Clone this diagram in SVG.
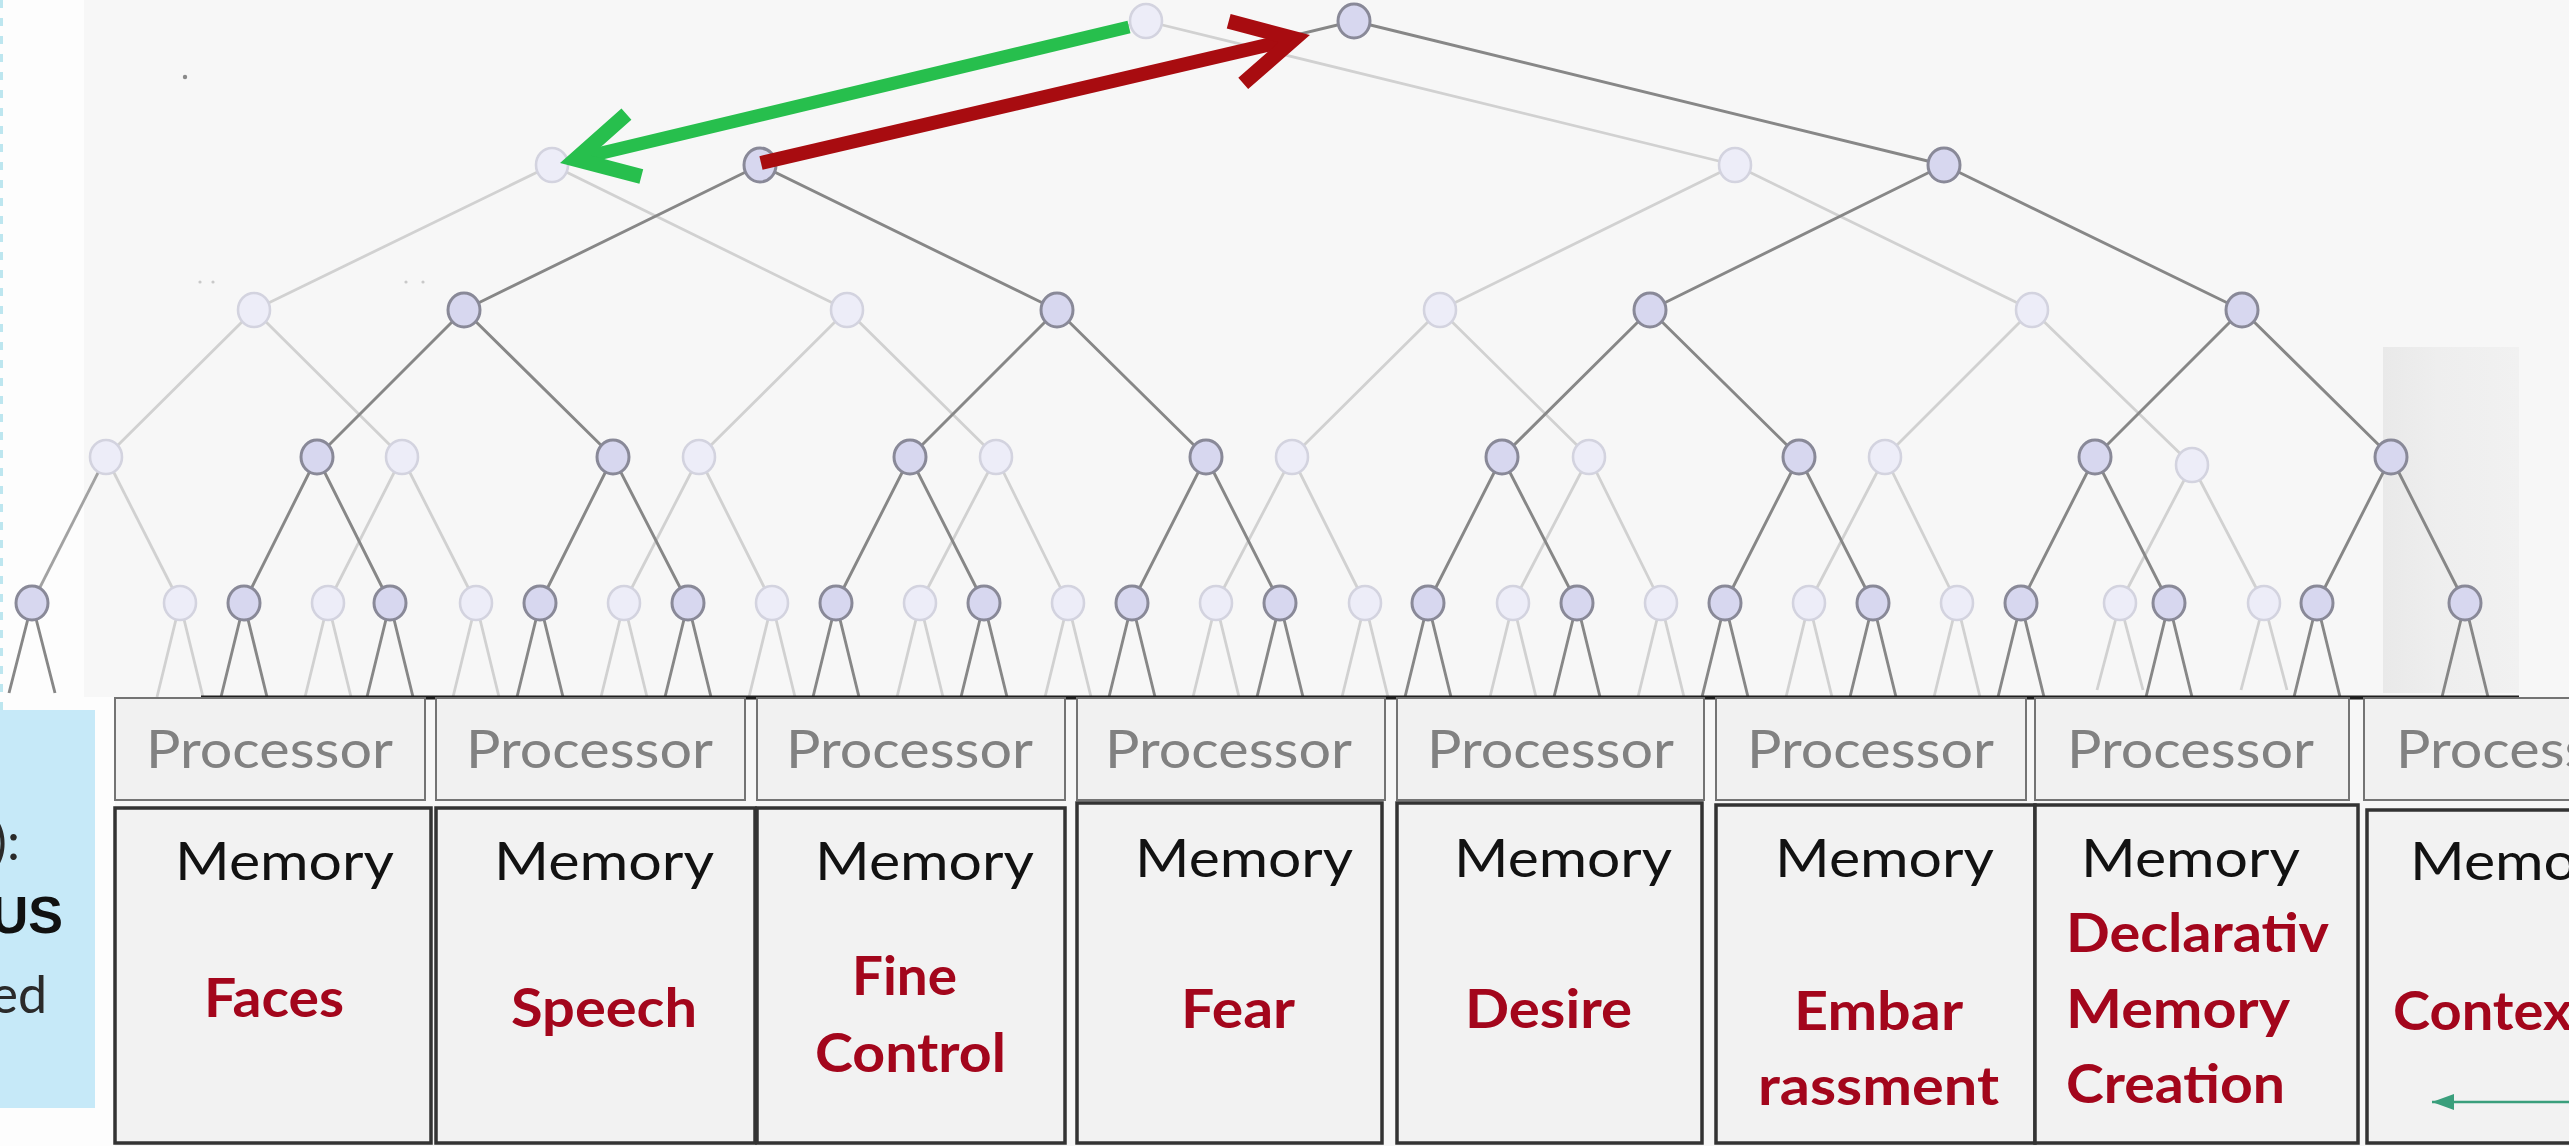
<svg xmlns="http://www.w3.org/2000/svg" width="2569" height="1146" viewBox="0 0 2569 1146">
  <defs>
    <style>
      .el{stroke:#d1d1d1;stroke-width:2.8;fill:none;stroke-linejoin:round}
      .em{stroke:#a2a2a2;stroke-width:2.8;fill:none}
      .ed{stroke:#878787;stroke-width:2.9;fill:none;stroke-linejoin:round}
      .nl{fill:#ededf8;stroke:#d3d3df;stroke-width:2.6}
      .nd{fill:#d7d7ef;stroke:#898998;stroke-width:3}
      .proc rect{fill:#f1f1f1;stroke:#747474;stroke-width:2}
      .mem rect{fill:#f2f2f2;stroke:#333333;stroke-width:3.5}
      .pt{font-family:Lato,"Open Sans","Liberation Sans",sans-serif;font-size:53px;fill:#818181}
      .mt{font-family:Lato,"Open Sans","Liberation Sans",sans-serif;font-size:52px;fill:#121212}
      .rt{font-family:Lato,"Open Sans","Liberation Sans",sans-serif;font-size:54px;font-weight:bold;fill:#a3061c}
      .side{font-family:Lato,"Open Sans","Liberation Sans",sans-serif;font-size:52px;fill:#2a2a2a}
      .tick{stroke:#5c5c5c;stroke-width:2}
    </style>
    <marker id="chev-green" markerUnits="userSpaceOnUse" orient="auto" refX="-8" refY="0" markerWidth="90" markerHeight="90" overflow="visible">
      <path d="M-60,-32 L0,0 L-60,32" fill="none" stroke="#27bf4d" stroke-width="15" stroke-miterlimit="10"/>
    </marker>
    <marker id="chev-red" markerUnits="userSpaceOnUse" orient="auto" refX="-8" refY="0" markerWidth="90" markerHeight="90" overflow="visible">
      <path d="M-60,-32 L0,0 L-60,32" fill="none" stroke="#a80c10" stroke-width="15" stroke-miterlimit="10"/>
    </marker>
    <marker id="tri-teal" markerUnits="userSpaceOnUse" orient="auto" refX="0" refY="0" markerWidth="30" markerHeight="30" overflow="visible">
      <path d="M0,0 L-22,-8 L-22,8 Z" fill="#3a9f7c"/>
    </marker>
    <linearGradient id="shade" x1="0" y1="0" x2="1" y2="0">
      <stop offset="0" stop-color="#e9e9e9"/>
      <stop offset="0.4" stop-color="#eeeeee"/>
      <stop offset="1" stop-color="#f1f1f1"/>
    </linearGradient>
  </defs>

  <!-- backdrop -->
  <rect x="0" y="0" width="2569" height="1146" fill="#f7f7f7"/>
  <rect x="0" y="0" width="84" height="712" fill="#fdfdfd"/>
  <rect x="0" y="697" width="115" height="449" fill="#fdfdfd"/>
  <line x1="1.5" y1="0" x2="1.5" y2="712" stroke="#bde6ef" stroke-width="3" stroke-dasharray="8 10"/>
  <rect x="2383" y="347" width="136" height="346" fill="url(#shade)"/>
  <g fill="#c9c9c9">
    <circle cx="185" cy="77" r="2.2" fill="#8a8a8a"/>
    <circle cx="200" cy="282" r="1.6"/>
    <circle cx="213" cy="282" r="1.6"/>
    <circle cx="406" cy="282" r="1.6"/>
    <circle cx="423" cy="282" r="1.6"/>
  </g>

  <!-- side panel -->
  <g id="side-panel">
    <rect x="-2" y="710" width="97" height="398" fill="#c6e9f8"/>
    <text class="side" x="20" y="860" text-anchor="end">):</text>
    <text x="63" y="933" text-anchor="end" font-family="'Liberation Sans',Arial,sans-serif" font-size="52" font-weight="bold" fill="#111">US</text>
    <text class="side" x="47" y="1013" text-anchor="end">ed</text>
  </g>

  <!-- tree edges and arrows -->
  <g id="connectors">
    <g id="faint-edges">
      <path class="el" d="M552,165 L1146,21 L1735,165"/>
      <path class="el" d="M254,310 L552,165 L847,310"/>
      <path class="el" d="M1440,310 L1735,165 L2032,310"/>
      <path class="el" d="M106,457 L254,310 L402,457"/>
      <path class="el" d="M699,457 L847,310 L996,457"/>
      <path class="el" d="M1292,457 L1440,310 L1589,457"/>
      <path class="el" d="M1885,457 L2032,310 L2192,465"/>
      <path class="el" d="M180,603 L106,457"/>
      <path class="em" d="M106,457 L32,603"/>
      <path class="el" d="M328,603 L402,457 L476,603"/>
      <path class="el" d="M624,603 L699,457 L772,603"/>
      <path class="el" d="M920,603 L996,457 L1068,603"/>
      <path class="el" d="M1216,603 L1292,457 L1365,603"/>
      <path class="el" d="M1513,603 L1589,457 L1661,603"/>
      <path class="el" d="M1809,603 L1885,457 L1957,603"/>
      <path class="el" d="M2120,603 L2192,465 L2264,603"/>
      <path class="ed" d="M9,693 L32,603 L55,693"/>
      <path class="el" d="M157,697 L180,603 L203,697"/>
      <path class="el" d="M305,697 L328,603 L351,697"/>
      <path class="el" d="M453,697 L476,603 L499,697"/>
      <path class="el" d="M601,697 L624,603 L647,697"/>
      <path class="el" d="M749,697 L772,603 L795,697"/>
      <path class="el" d="M897,697 L920,603 L943,697"/>
      <path class="el" d="M1045,697 L1068,603 L1091,697"/>
      <path class="el" d="M1193,697 L1216,603 L1239,697"/>
      <path class="el" d="M1342,697 L1365,603 L1388,697"/>
      <path class="el" d="M1490,697 L1513,603 L1536,697"/>
      <path class="el" d="M1638,697 L1661,603 L1684,697"/>
      <path class="el" d="M1786,697 L1809,603 L1832,697"/>
      <path class="el" d="M1934,697 L1957,603 L1980,697"/>
      <path class="el" d="M2097,690 L2120,603 L2143,690"/>
      <path class="el" d="M2241,690 L2264,603 L2287,690"/>
    </g>
    <g id="strong-edges">
      <path class="ed" d="M760,165 L1354,21 L1944,165"/>
      <path class="ed" d="M464,310 L760,165 L1057,310"/>
      <path class="ed" d="M1650,310 L1944,165 L2242,310"/>
      <path class="ed" d="M317,457 L464,310 L613,457"/>
      <path class="ed" d="M910,457 L1057,310 L1206,457"/>
      <path class="ed" d="M1502,457 L1650,310 L1799,457"/>
      <path class="ed" d="M2095,457 L2242,310 L2391,457"/>
      <path class="ed" d="M244,603 L317,457 L390,603"/>
      <path class="ed" d="M540,603 L613,457 L688,603"/>
      <path class="ed" d="M836,603 L910,457 L984,603"/>
      <path class="ed" d="M1132,603 L1206,457 L1280,603"/>
      <path class="ed" d="M1428,603 L1502,457 L1577,603"/>
      <path class="ed" d="M1725,603 L1799,457 L1873,603"/>
      <path class="ed" d="M2021,603 L2095,457 L2169,603"/>
      <path class="ed" d="M2317,603 L2391,457 L2465,603"/>
      <path class="ed" d="M221,697 L244,603 L267,697"/>
      <path class="ed" d="M367,697 L390,603 L413,697"/>
      <path class="ed" d="M517,697 L540,603 L563,697"/>
      <path class="ed" d="M665,697 L688,603 L711,697"/>
      <path class="ed" d="M813,697 L836,603 L859,697"/>
      <path class="ed" d="M961,697 L984,603 L1007,697"/>
      <path class="ed" d="M1109,697 L1132,603 L1155,697"/>
      <path class="ed" d="M1257,697 L1280,603 L1303,697"/>
      <path class="ed" d="M1405,697 L1428,603 L1451,697"/>
      <path class="ed" d="M1554,697 L1577,603 L1600,697"/>
      <path class="ed" d="M1702,697 L1725,603 L1748,697"/>
      <path class="ed" d="M1850,697 L1873,603 L1896,697"/>
      <path class="ed" d="M1998,697 L2021,603 L2044,697"/>
      <path class="ed" d="M2146,697 L2169,603 L2192,697"/>
      <path class="ed" d="M2294,697 L2317,603 L2340,697"/>
      <path class="ed" d="M2442,697 L2465,603 L2488,697"/>
    </g>
    <g id="bus">
      <line x1="201" y1="697.5" x2="2519" y2="697.5" stroke="#1e1e1e" stroke-width="4"/>
      <path class="tick" d="M328,699 V711 M643,699 V711 M649,699 V711 M969,699 V711 M975,699 V711 M1290,699 V711 M1302,699 V711 M1615,699 V711 M1626,699 V711 M1938,699 V711 M1952,699 V711 M2265,699 V711 M2276,699 V711"/>
    </g>
  </g>

  <!-- faint tree nodes -->
  <g id="faint-nodes">
    <g id="f-0"><ellipse class="nl" cx="1146" cy="21" rx="16" ry="17"/></g>
    <g id="f-1a"><ellipse class="nl" cx="552" cy="165" rx="16" ry="17"/></g>
    <g id="f-1b"><ellipse class="nl" cx="1735" cy="165" rx="16" ry="17"/></g>
    <g id="f-2a"><ellipse class="nl" cx="254" cy="310" rx="16" ry="17"/></g>
    <g id="f-2b"><ellipse class="nl" cx="847" cy="310" rx="16" ry="17"/></g>
    <g id="f-2c"><ellipse class="nl" cx="1440" cy="310" rx="16" ry="17"/></g>
    <g id="f-2d"><ellipse class="nl" cx="2032" cy="310" rx="16" ry="17"/></g>
    <g id="f-3a"><ellipse class="nl" cx="106" cy="457" rx="16" ry="17"/></g>
    <g id="f-3b"><ellipse class="nl" cx="402" cy="457" rx="16" ry="17"/></g>
    <g id="f-3c"><ellipse class="nl" cx="699" cy="457" rx="16" ry="17"/></g>
    <g id="f-3d"><ellipse class="nl" cx="996" cy="457" rx="16" ry="17"/></g>
    <g id="f-3e"><ellipse class="nl" cx="1292" cy="457" rx="16" ry="17"/></g>
    <g id="f-3f"><ellipse class="nl" cx="1589" cy="457" rx="16" ry="17"/></g>
    <g id="f-3g"><ellipse class="nl" cx="1885" cy="457" rx="16" ry="17"/></g>
    <g id="f-3h"><ellipse class="nl" cx="2192" cy="465" rx="16" ry="17"/></g>
    <g id="f-4a"><ellipse class="nd" cx="32" cy="603" rx="16" ry="17"/></g>
    <g id="f-4b"><ellipse class="nl" cx="180" cy="603" rx="16" ry="17"/></g>
    <g id="f-4c"><ellipse class="nl" cx="328" cy="603" rx="16" ry="17"/></g>
    <g id="f-4d"><ellipse class="nl" cx="476" cy="603" rx="16" ry="17"/></g>
    <g id="f-4e"><ellipse class="nl" cx="624" cy="603" rx="16" ry="17"/></g>
    <g id="f-4f"><ellipse class="nl" cx="772" cy="603" rx="16" ry="17"/></g>
    <g id="f-4g"><ellipse class="nl" cx="920" cy="603" rx="16" ry="17"/></g>
    <g id="f-4h"><ellipse class="nl" cx="1068" cy="603" rx="16" ry="17"/></g>
    <g id="f-4i"><ellipse class="nl" cx="1216" cy="603" rx="16" ry="17"/></g>
    <g id="f-4j"><ellipse class="nl" cx="1365" cy="603" rx="16" ry="17"/></g>
    <g id="f-4k"><ellipse class="nl" cx="1513" cy="603" rx="16" ry="17"/></g>
    <g id="f-4l"><ellipse class="nl" cx="1661" cy="603" rx="16" ry="17"/></g>
    <g id="f-4m"><ellipse class="nl" cx="1809" cy="603" rx="16" ry="17"/></g>
    <g id="f-4n"><ellipse class="nl" cx="1957" cy="603" rx="16" ry="17"/></g>
    <g id="f-4o"><ellipse class="nl" cx="2120" cy="603" rx="16" ry="17"/></g>
    <g id="f-4p"><ellipse class="nl" cx="2264" cy="603" rx="16" ry="17"/></g>
  </g>

  <!-- strong tree nodes -->
  <g id="strong-nodes">
    <g id="s-0"><ellipse class="nd" cx="1354" cy="21" rx="16" ry="17"/></g>
    <g id="s-1a"><ellipse class="nd" cx="760" cy="165" rx="16" ry="17"/></g>
    <g id="s-1b"><ellipse class="nd" cx="1944" cy="165" rx="16" ry="17"/></g>
    <g id="s-2a"><ellipse class="nd" cx="464" cy="310" rx="16" ry="17"/></g>
    <g id="s-2b"><ellipse class="nd" cx="1057" cy="310" rx="16" ry="17"/></g>
    <g id="s-2c"><ellipse class="nd" cx="1650" cy="310" rx="16" ry="17"/></g>
    <g id="s-2d"><ellipse class="nd" cx="2242" cy="310" rx="16" ry="17"/></g>
    <g id="s-3a"><ellipse class="nd" cx="317" cy="457" rx="16" ry="17"/></g>
    <g id="s-3b"><ellipse class="nd" cx="613" cy="457" rx="16" ry="17"/></g>
    <g id="s-3c"><ellipse class="nd" cx="910" cy="457" rx="16" ry="17"/></g>
    <g id="s-3d"><ellipse class="nd" cx="1206" cy="457" rx="16" ry="17"/></g>
    <g id="s-3e"><ellipse class="nd" cx="1502" cy="457" rx="16" ry="17"/></g>
    <g id="s-3f"><ellipse class="nd" cx="1799" cy="457" rx="16" ry="17"/></g>
    <g id="s-3g"><ellipse class="nd" cx="2095" cy="457" rx="16" ry="17"/></g>
    <g id="s-3h"><ellipse class="nd" cx="2391" cy="457" rx="16" ry="17"/></g>
    <g id="s-4a"><ellipse class="nd" cx="244" cy="603" rx="16" ry="17"/></g>
    <g id="s-4b"><ellipse class="nd" cx="390" cy="603" rx="16" ry="17"/></g>
    <g id="s-4c"><ellipse class="nd" cx="540" cy="603" rx="16" ry="17"/></g>
    <g id="s-4d"><ellipse class="nd" cx="688" cy="603" rx="16" ry="17"/></g>
    <g id="s-4e"><ellipse class="nd" cx="836" cy="603" rx="16" ry="17"/></g>
    <g id="s-4f"><ellipse class="nd" cx="984" cy="603" rx="16" ry="17"/></g>
    <g id="s-4g"><ellipse class="nd" cx="1132" cy="603" rx="16" ry="17"/></g>
    <g id="s-4h"><ellipse class="nd" cx="1280" cy="603" rx="16" ry="17"/></g>
    <g id="s-4i"><ellipse class="nd" cx="1428" cy="603" rx="16" ry="17"/></g>
    <g id="s-4j"><ellipse class="nd" cx="1577" cy="603" rx="16" ry="17"/></g>
    <g id="s-4k"><ellipse class="nd" cx="1725" cy="603" rx="16" ry="17"/></g>
    <g id="s-4l"><ellipse class="nd" cx="1873" cy="603" rx="16" ry="17"/></g>
    <g id="s-4m"><ellipse class="nd" cx="2021" cy="603" rx="16" ry="17"/></g>
    <g id="s-4n"><ellipse class="nd" cx="2169" cy="603" rx="16" ry="17"/></g>
    <g id="s-4o"><ellipse class="nd" cx="2317" cy="603" rx="16" ry="17"/></g>
    <g id="s-4p"><ellipse class="nd" cx="2465" cy="603" rx="16" ry="17"/></g>
  </g>

  <!-- transfer arrows between the two trees -->
  <g id="arrows">
    <line x1="1129" y1="27" x2="583.3" y2="157.4" stroke="#27bf4d" stroke-width="13" marker-end="url(#chev-green)"/>
    <line x1="761" y1="163" x2="1286.6" y2="40.5" stroke="#a80c10" stroke-width="14" marker-end="url(#chev-red)"/>
  </g>

  <!-- processor row -->
  <g id="processors">
    <g id="proc-1" class="proc"><rect x="115" y="698" width="310" height="102"/><text class="pt" x="146" y="768" textLength="247" lengthAdjust="spacingAndGlyphs">Processor</text></g>
    <g id="proc-2" class="proc"><rect x="436" y="698" width="309" height="102"/><text class="pt" x="466" y="768" textLength="247" lengthAdjust="spacingAndGlyphs">Processor</text></g>
    <g id="proc-3" class="proc"><rect x="757" y="698" width="308" height="102"/><text class="pt" x="786" y="768" textLength="247" lengthAdjust="spacingAndGlyphs">Processor</text></g>
    <g id="proc-4" class="proc"><rect x="1077" y="698" width="308" height="102"/><text class="pt" x="1105" y="768" textLength="247" lengthAdjust="spacingAndGlyphs">Processor</text></g>
    <g id="proc-5" class="proc"><rect x="1397" y="698" width="307" height="102"/><text class="pt" x="1427" y="768" textLength="247" lengthAdjust="spacingAndGlyphs">Processor</text></g>
    <g id="proc-6" class="proc"><rect x="1716" y="698" width="310" height="102"/><text class="pt" x="1747" y="768" textLength="247" lengthAdjust="spacingAndGlyphs">Processor</text></g>
    <g id="proc-7" class="proc"><rect x="2035" y="698" width="314" height="102"/><text class="pt" x="2067" y="768" textLength="247" lengthAdjust="spacingAndGlyphs">Processor</text></g>
    <g id="proc-8" class="proc"><rect x="2364" y="698" width="260" height="102"/><text class="pt" x="2396" y="768" textLength="247" lengthAdjust="spacingAndGlyphs">Processor</text></g>
  </g>

  <!-- memory row -->
  <g id="memories">
    <g id="mem-1" class="mem"><rect x="115" y="808" width="316" height="335"/>
      <text class="mt" x="175" y="880" textLength="219" lengthAdjust="spacingAndGlyphs">Memory</text>
      <text class="rt" x="204" y="1017" textLength="140" lengthAdjust="spacingAndGlyphs">Faces</text></g>
    <g id="mem-2" class="mem"><rect x="436" y="808" width="319" height="335"/>
      <text class="mt" x="494" y="880" textLength="220" lengthAdjust="spacingAndGlyphs">Memory</text>
      <text class="rt" x="511" y="1027" textLength="186" lengthAdjust="spacingAndGlyphs">Speech</text></g>
    <g id="mem-3" class="mem"><rect x="757" y="808" width="308" height="335"/>
      <text class="mt" x="815" y="880" textLength="219" lengthAdjust="spacingAndGlyphs">Memory</text>
      <text class="rt" x="852" y="995" textLength="105" lengthAdjust="spacingAndGlyphs">Fine</text>
      <text class="rt" x="815" y="1072" textLength="191" lengthAdjust="spacingAndGlyphs">Control</text></g>
    <g id="mem-4" class="mem"><rect x="1077" y="803" width="305" height="340"/>
      <text class="mt" x="1135" y="877" textLength="218" lengthAdjust="spacingAndGlyphs">Memory</text>
      <text class="rt" x="1181" y="1028" textLength="114" lengthAdjust="spacingAndGlyphs">Fear</text></g>
    <g id="mem-5" class="mem"><rect x="1397" y="803" width="305" height="340"/>
      <text class="mt" x="1454" y="877" textLength="218" lengthAdjust="spacingAndGlyphs">Memory</text>
      <text class="rt" x="1465" y="1028" textLength="167" lengthAdjust="spacingAndGlyphs">Desire</text></g>
    <g id="mem-6" class="mem"><rect x="1716" y="805" width="319" height="338"/>
      <text class="mt" x="1775" y="877" textLength="219" lengthAdjust="spacingAndGlyphs">Memory</text>
      <text class="rt" x="1794" y="1030" textLength="169" lengthAdjust="spacingAndGlyphs">Embar</text>
      <text class="rt" x="1758" y="1105" textLength="241" lengthAdjust="spacingAndGlyphs">rassment</text></g>
    <g id="mem-7" class="mem"><rect x="2035" y="805" width="323" height="338"/>
      <text class="mt" x="2081" y="877" textLength="219" lengthAdjust="spacingAndGlyphs">Memory</text>
      <text class="rt" x="2066" y="952" textLength="263" lengthAdjust="spacingAndGlyphs">Declarativ</text>
      <text class="rt" x="2066" y="1028" textLength="224" lengthAdjust="spacingAndGlyphs">Memory</text>
      <text class="rt" x="2066" y="1103" textLength="219" lengthAdjust="spacingAndGlyphs">Creation</text></g>
    <g id="mem-8" class="mem"><rect x="2367" y="810" width="260" height="333"/>
      <text class="mt" x="2410" y="880" textLength="219" lengthAdjust="spacingAndGlyphs">Memory</text>
      <text class="rt" x="2393" y="1030" textLength="200" lengthAdjust="spacingAndGlyphs">Context</text>
      <line x1="2575" y1="1102" x2="2432" y2="1102" stroke="#3a9f7c" stroke-width="2.5" marker-end="url(#tri-teal)"/></g>
  </g>
</svg>
